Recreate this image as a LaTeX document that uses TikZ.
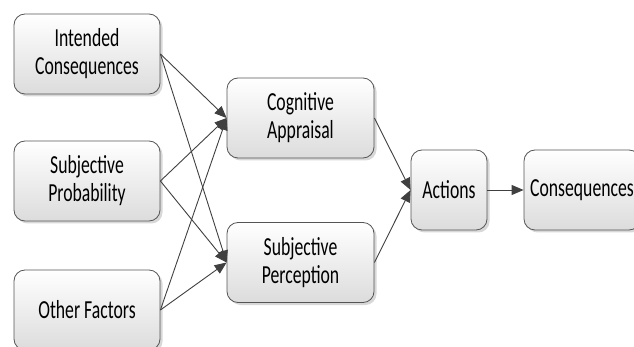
\documentclass[tikz,border=0pt]{standalone}
\usepackage{fontspec}
\setmainfont{Carlito}[FakeStretch=0.68]
\usetikzlibrary{arrows.meta,shadows}
\definecolor{edgegray}{HTML}{404040}
\definecolor{boxline}{HTML}{555555}
\definecolor{boxlow}{HTML}{DCDCDC}
\tikzset{
  box/.style={draw=boxline, line width=0.8pt, rounded corners=11pt,
    top color=white, bottom color=boxlow,
    drop shadow={shadow xshift=2.5pt, shadow yshift=-2.5pt, fill=black!22, opacity=0.7},
    minimum height=80pt, inner sep=0pt, align=center,
    font=\fontsize{26}{28}\selectfont},
  link/.style={draw=edgegray, line width=0.9pt,
    -{Triangle[length=12pt,width=10pt]}}
}
\begin{document}
\begin{tikzpicture}[x=1pt,y=-1pt]
  \useasboundingbox (0,0) rectangle (634,347);
  \clip (0,0) rectangle (634,347);
  % input factors
  \node[box, minimum width=146pt] (ic) at (87,54) {Intended\\Consequences};
  \node[box, minimum width=146pt] (sp) at (87,181) {Subjective\\Probability};
  \node[box, minimum width=146pt] (of) at (87,310) {Other Factors};
  % mediating processes
  \node[box, minimum width=147pt] (ca) at (300.5,118) {Cognitive\\Appraisal};
  \node[box, minimum width=147pt] (pe) at (300.5,262.5) {Subjective\\Perception};
  % outcome chain
  \node[box, minimum width=76pt] (ac) at (449,190) {Actions};
  \node[box, minimum width=116pt] (co) at (582,190) {Consequences};
  % connectors
  \draw[link] (ic.east) -- (ca.west);
  \draw[link] (ic.east) -- (pe.west);
  \draw[link] (sp.east) -- (ca.west);
  \draw[link] (sp.east) -- (pe.west);
  \draw[link] (of.east) -- (ca.west);
  \draw[link] (of.east) -- (pe.west);
  \draw[link] (ca.east) -- (ac.west);
  \draw[link] (pe.east) -- (ac.west);
  \draw[link] (ac.east) -- (co.west);
\end{tikzpicture}
\end{document}
